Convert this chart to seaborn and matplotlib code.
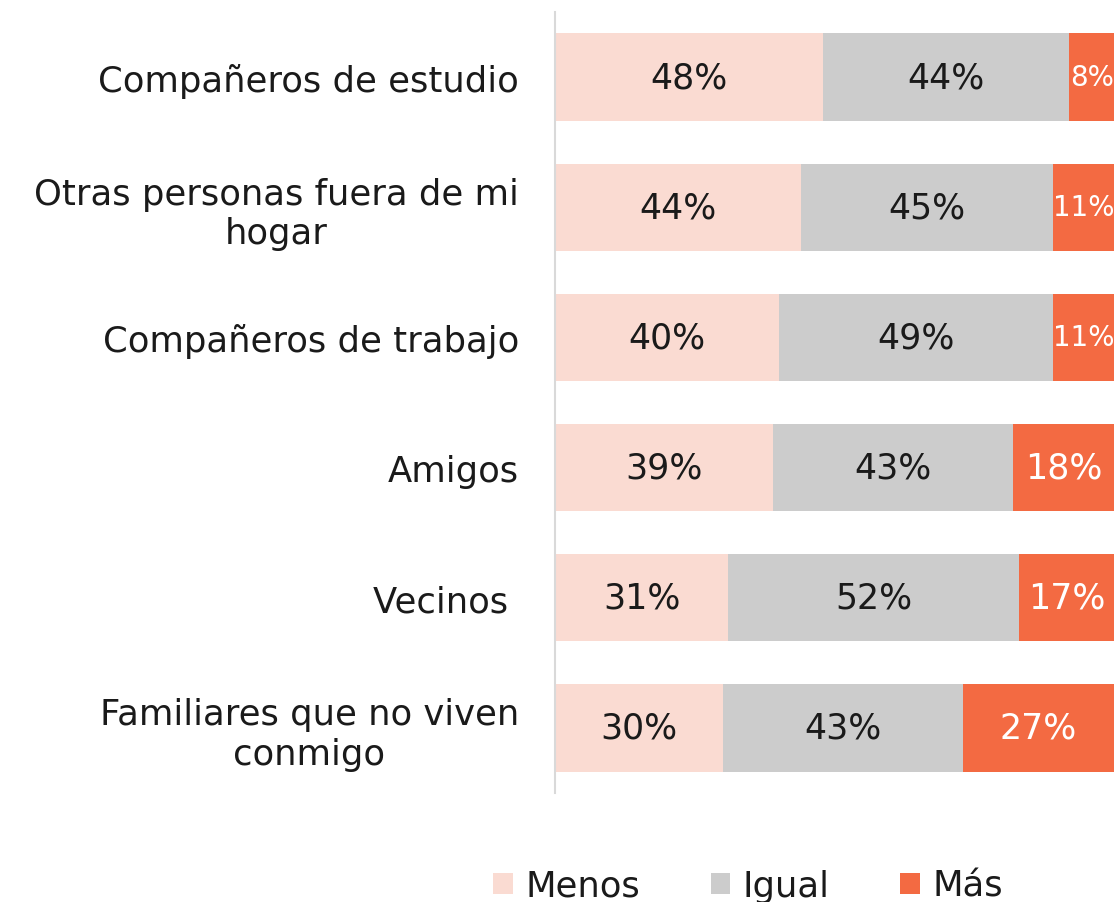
import matplotlib
matplotlib.use("Agg")
import matplotlib.pyplot as plt
import seaborn as sns
import pandas as pd
import numpy as np
from matplotlib.patches import Patch

categories = ["Compañeros de estudio", "Otras personas fuera de mi\nhogar",
              "Compañeros de trabajo", "Amigos", "Vecinos ",
              "Familiares que no viven\nconmigo"]
menos = [48, 44, 40, 39, 31, 30]
igual = [44, 45, 49, 43, 52, 43]
mas = [8, 11, 11, 18, 17, 27]
series = ["Menos", "Igual", "Más"]
colors = ["#FADBD2", "#CCCCCC", "#F36A42"]

sns.set_theme(style="white")
plt.rcParams['font.family'] = ['DejaVu Sans']

df = pd.DataFrame({"cat": categories, "Menos": menos, "Igual": igual, "Más": mas})
df["c1"] = df["Menos"]
df["c2"] = df["Menos"] + df["Igual"]
df["c3"] = df["c2"] + df["Más"]

fig = plt.figure(figsize=(11.14, 9.03), dpi=100)
ax = fig.add_axes([555/1114, 1 - 794/903, 1 - 555/1114, (794 - 13)/903])

for col, c in zip(["c3", "c2", "c1"], colors[::-1]):
    sns.barplot(data=df, y="cat", x=col, color=c, orient="h", width=0.67,
                saturation=1, ax=ax, edgecolor="none")

ax.set_xlim(0, 100)
ax.set_ylim(5.5, -0.5)
ax.set_xlabel("")
ax.set_ylabel("")
ax.set_xticks([])
for s in ["top", "right", "bottom"]:
    ax.spines[s].set_visible(False)
ax.spines["left"].set_color("#D9D9D9")
ax.spines["left"].set_linewidth(1.5)
ax.tick_params(axis="y", length=0, pad=26, labelsize=25.5, labelcolor="#1a1a1a")
for t in ax.get_yticklabels():
    t.set_multialignment("center")

for i in range(len(categories)):
    starts = [0, menos[i], menos[i] + igual[i]]
    vals = [menos[i], igual[i], mas[i]]
    for j, (s, v) in enumerate(zip(starts, vals)):
        fs = 25
        if j == 2 and v < 13:
            fs = 20
        ax.text(s + v / 2, i, f"{v}%", ha="center", va="center", fontsize=fs,
                color="white" if j == 2 else "#1a1a1a", clip_on=False)

handles = [Patch(facecolor=c, edgecolor="none") for c in colors]
fig.legend(handles, series, loc="center", bbox_to_anchor=(748/1114, 1 - 887/903),
           ncol=3, frameon=False, fontsize=25.5, handlelength=0.55, handleheight=0.55,
           handletextpad=0.35, columnspacing=2.0, labelcolor="#1a1a1a",
           borderpad=0, borderaxespad=0)

fig.savefig("out.png", dpi=100)
